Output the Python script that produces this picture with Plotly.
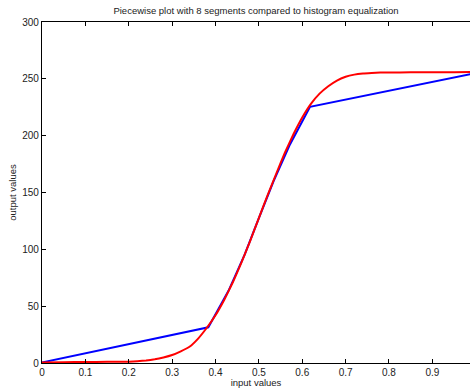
import plotly.graph_objects as go

# Piecewise linear mapping (8 segments, 9 breakpoints)
piece_x = [0.0, 0.3835, 0.430, 0.4675, 0.500, 0.534, 0.572, 0.618, 1.0]
piece_y = [0.5, 31.4, 63.5, 95.5, 127.5, 160.0, 192.5, 225.4, 255.0]

# Histogram equalization curve
heq_x = [0.00, 0.05, 0.10, 0.15, 0.20, 0.22, 0.24, 0.26, 0.28, 0.30, 0.32, 0.34,
         0.36, 0.38, 0.40, 0.42, 0.44, 0.46, 0.48, 0.50, 0.52, 0.54, 0.56, 0.58,
         0.60, 0.62, 0.64, 0.66, 0.68, 0.70, 0.72, 0.74, 0.76, 0.78, 0.80, 0.85,
         0.90, 0.95, 1.00]
heq_y = [0.5, 0.7, 0.9, 1.0, 1.2, 1.5, 2.1, 3.2, 4.8, 7.0, 10.3, 14.3,
         21.5, 31.0, 42.0, 55.5, 71.0, 88.5, 107.5, 127.5, 147.5, 166.5, 185.0, 201.5,
         216.0, 228.0, 237.0, 243.5, 248.5, 251.8, 253.7, 254.7, 255.2, 255.5, 255.6, 255.7,
         255.8, 255.9, 256.0]

x_ticks = [0, 0.1, 0.2, 0.3, 0.4, 0.5, 0.6, 0.7, 0.8, 0.9]
x_tick_labels = ["0", "0.1", "0.2", "0.3", "0.4", "0.5", "0.6", "0.7", "0.8", "0.9"]
y_ticks = [0, 50, 100, 150, 200, 250, 300]

FONT = "Liberation Sans, Arial, Helvetica, sans-serif"

fig = go.Figure()
fig.add_trace(go.Scatter(x=piece_x, y=piece_y, mode="lines",
                         line=dict(color="#0000ff", width=2), showlegend=False))
fig.add_trace(go.Scatter(x=heq_x, y=heq_y, mode="lines",
                         line=dict(color="#ff0000", width=2, shape="spline", smoothing=0.3),
                         showlegend=False))

fig.update_layout(
    width=470, height=388,
    margin=dict(l=42, r=0, t=22, b=25),
    paper_bgcolor="white", plot_bgcolor="white",
    font=dict(family=FONT, size=10, color="#222"),
    title=dict(text="Piecewise plot with 8 segments compared to histogram equalization",
               x=(42 + 470) / 2 / 470, xanchor="center", y=1 - 11 / 388, yanchor="middle",
               font=dict(size=9.5, color="#222")),
    xaxis=dict(range=[0, 0.9868], tickvals=x_ticks, ticktext=x_tick_labels,
               ticks="inside", ticklen=4, tickwidth=1, tickcolor="black",
               showline=True, linecolor="black", linewidth=1.3, mirror="ticks",
               showgrid=False, zeroline=False,
               title=dict(text="input values", standoff=2, font=dict(size=9.5)),
               tickfont=dict(size=10)),
    yaxis=dict(range=[0, 300], tickvals=y_ticks,
               ticks="inside", ticklen=4, tickwidth=1, tickcolor="black",
               showline=True, linecolor="black", linewidth=1.3, mirror=False,
               showgrid=False, zeroline=False,
               title=dict(text="output values", standoff=3, font=dict(size=9.5)),
               tickfont=dict(size=10)),
)

fig.write_html("out.html")
